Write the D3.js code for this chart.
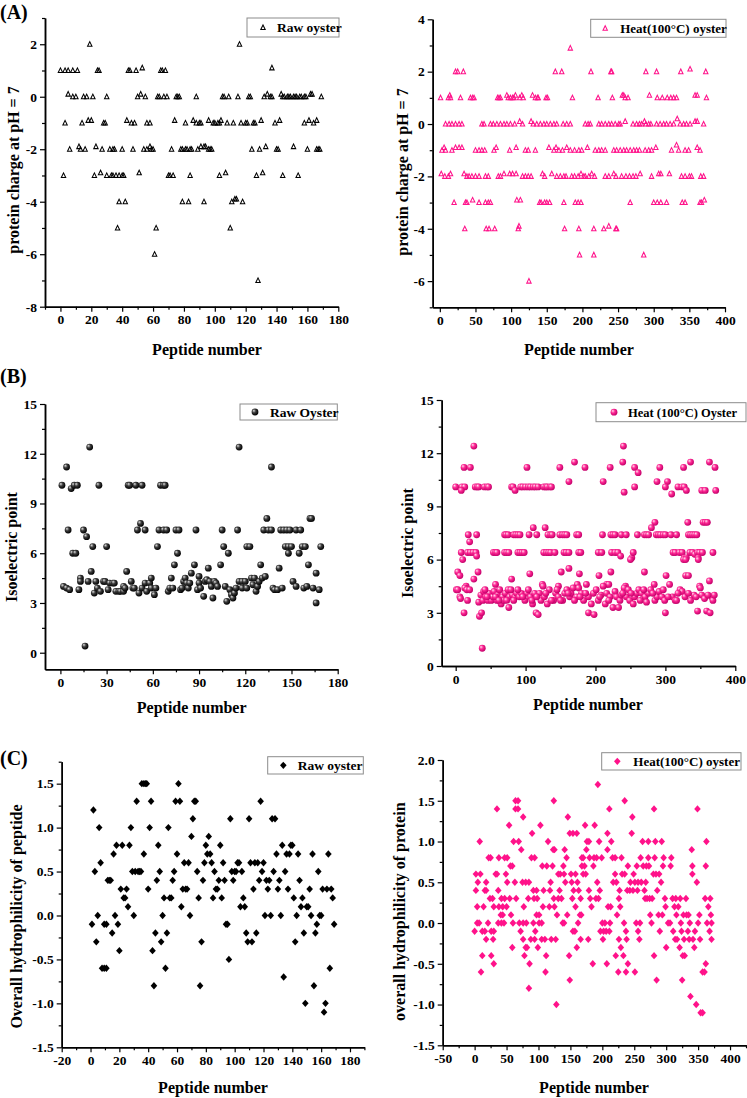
<!DOCTYPE html>
<html>
<head>
<meta charset="utf-8">
<script src="https://cdn.jsdelivr.net/npm/d3@7"></script>
<style>
  body { margin: 0; background: #fff; }
  svg text { font-family: "Liberation Serif", "Times New Roman", serif; font-weight: bold; fill: #000; }
</style>
</head>
<body>
<svg id="chart" width="747" height="1098"></svg>
<script>
// ---- data: [peptide number, value] ----
const rawCharge = [
  [19,2],[116,2],[53,1.1],[137,1.1],
  [0,1],[3,1],[5,1],[8,1],[11,1],[24,1],[25,1],[44,1],[45,1],[49,1],[65,1],[66,1],[68,1],
  [5,0.1],[8,0],[10,0],[15,0],[17,0],[21,0],[30,0],[50,0],[52,0.1],[55,0],[63,0],[64,0],[67,0],[69,0],
  [75,0],[76,0],[77,0],[88,0],[105,0],[106,0],[109,0],[115,0],[122,0],[123,0],[132,0],[134,0.1],[136,0],
  [137,0],[143,0.1],[144,0],[145,0],[147,0],[148,0],[149,0],[151,0],[152,0],[153,0],[155,0],[156,0],
  [158,0],[159,0],[162,0.1],[163,0.1],[169,0],
  [3,-1],[14,-1],[18,-0.9],[20,-0.9],[28,-1],[29,-1],[43,-0.9],[46,-1],[48,-1],[56,-1],[58,-1],[74,-0.9],
  [81,-1],[86,-0.9],[88,-1],[90,-1],[91,-1],[96,-0.9],[99,-1],[100,-1],[102,-1],[103,-1],[104,-0.9],
  [108,-1],[112,-1],[117,-1],[120,-1],[121,-1],[125,-1],[126,-1],[130,-0.9],[139,-1],[142,-0.9],
  [158,-1],[161,-0.9],[164,-1],[166,-0.9],
  [6,-2],[12,-1.9],[13,-2],[16,-2],[23,-1.9],[27,-2],[32,-2],[34,-2],[35,-2],[40,-2],[47,-2],[54,-2],
  [56,-2],[58,-1.9],[59,-2],[60,-2],[72,-2],[78,-2],[79,-2],[81,-2],[82,-2],[84,-2],[85,-2],[89,-2],
  [91,-1.9],[93,-1.9],[94,-1.9],[96,-2],[97,-2],[98,-2],[124,-2],[129,-2],[133,-1.9],[140,-2],[141,-2],
  [151,-1.9],[160,-2],[166,-2],[167,-2],[168,-2],
  [2,-3],[22,-3],[26,-2.9],[30,-3],[33,-3],[34,-3],[36,-3],[38,-3],[40,-3],[41,-3],[51,-2.9],[70,-3],
  [71,-3],[73,-3],[84,-3],[103,-3],[107,-2.9],[127,-3],[131,-2.9],[144,-3],[154,-3],
  [38,-4],[42,-4],[79,-4],[83,-4],[93,-4],[111,-4],[113,-3.9],[114,-3.9],[118,-4],
  [37,-5],[62,-5],[110,-5],[61,-6],[128,-7]
];

const heatCharge = [
  [183,2.9],
  [22,2],[25,2],[33,2],[162,2],[171,2],[212,2],[240,2],[241,2],[289,2],[304,2],[338,2],[351,2.1],[373,2],
  [1,1],[12,1],[14,1.1],[15,1],[29,1],[43,1],[46,1],[48,1],[81,1],[83,1],[85,1],[94,1.1],[96,1],[99,1],
  [102,1],[104,1],[106,1.1],[112,1],[115,1.1],[117,1],[130,1.1],[134,1],[137,1],[138,1],[149,1],[151,1],
  [186,1],[222,1],[242,1],[256,1.1],[258,1.1],[260,1],[264,1],[294,1.1],[305,1],[312,1],[319,1],[324,1],
  [328,1],[332,1],[358,1.1],[361,1.1],[374,1],
  [8,0],[13,0],[17,0],[22,0],[27,0],[31,0],[59,0],[62,0],[71,0],[75,0],[80,0],[85,0],[90,0],[94,0],[99,0],
  [105,0],[112,0.1],[116,0],[128,0.1],[131,0],[136,0],[141,0],[146,0],[150,0],[155,0],[160,0],[164,0],
  [173,0],[178,0],[183,0],[204,0],[208,0],[211,0],[223,0],[227,0],[232,0],[237,0],[241,0],[246,0],
  [251,0],[253,0],[260,0.1],[271,0],[276,0],[280,0],[283,0],[287,0.1],[289,0],[293,0],[296,0],[304,0],
  [309,0],[314,0],[318,0],[323,0],[328,0],[333,0.2],[337,0],[342,0],[346,0],[351,0],[358,0.1],[361,0.1],[370,0],
  [3,-1],[6,-0.9],[8,-1],[17,-1],[22,-0.9],[27,-0.9],[31,-0.9],[50,-1],[55,-1],[59,-1],[63,-1],[76,-1],
  [79,-0.9],[98,-1],[107,-0.9],[120,-1],[124,-1],[134,-1],[153,-0.9],[160,-1],[163,-0.9],[167,-1],
  [172,-1],[178,-0.9],[183,-1],[189,-1],[195,-1],[199,-1],[207,-0.9],[218,-1],[223,-1],[227,-1],[232,-1],
  [244,-1],[248,-1],[253,-1],[258,-1],[262,-1],[267,-1],[272,-1],[276,-1],[280,-1],[288,-1],[293,-1],
  [297,-1],[303,-0.9],[325,-1],[332,-0.8],[335,-1],[344,-1],[349,-1],[361,-0.9],[365,-1],
  [2,-1.9],[7,-2],[12,-2],[15,-1.9],[34,-1.9],[38,-2],[41,-2],[45,-2],[50,-2],[55,-2],[64,-2],[68,-2],
  [82,-2],[85,-2],[90,-1.9],[98,-1.9],[102,-1.9],[107,-1.9],[116,-2],[120,-2],[124,-2],[128,-2],
  [144,-1.9],[147,-2],[157,-1.9],[164,-2],[169,-2],[174,-2],[177,-2],[185,-2],[189,-2],[194,-2],
  [198,-1.9],[202,-2],[204,-2],[209,-2],[213,-1.9],[217,-2],[232,-2],[237,-2],[244,-1.9],[247,-2],
  [255,-2],[261,-2],[266,-2],[271,-2],[275,-2],[281,-1.9],[297,-2],[307,-1.9],[310,-1.9],[322,-1.9],
  [339,-2],[344,-2],[350,-2],[353,-2],[366,-2],[370,-2],
  [20,-3],[36,-3],[38,-3],[46,-2.9],[55,-3],[64,-3],[68,-3],[71,-3],[108,-2.9],[113,-2.9],[140,-3],
  [142,-3],[147,-3],[150,-3],[154,-3],[174,-3],[190,-3],[194,-3],[198,-3],[267,-3],[300,-3],[305,-3],
  [310,-3],[318,-3],[340,-3],[344,-3],[365,-3],[367,-3],[371,-2.9],
  [35,-4],[65,-4],[69,-4],[77,-4],[110,-4],[111,-3.9],[175,-4],[195,-4],[216,-4],[230,-4],[237,-3.9],
  [247,-4],[248,-4],
  [196,-5],[216,-5],[286,-5],[125,-6]
];

const rawPI = [
  [1,10.1],[2,4.0],[4,3.9],[4,11.2],[5,7.4],[6,3.8],[7,9.9],[8,6.0],[9,10.1],[10,6.0],[11,10.1],[12,3.8],
  [13,4.5],[13,4.3],[15,7.4],[16,0.4],[17,7.0],[18,4.3],[19,12.4],[20,4.9],[21,6.4],[22,3.6],[23,4.3],
  [24,3.9],[25,10.1],[26,3.7],[28,4.3],[29,4.3],[30,6.4],[31,3.8],[32,4.2],[34,4.2],[35,4.2],[36,3.7],
  [38,3.7],[39,3.7],[41,4.0],[41,3.7],[42,3.9],[43,4.9],[44,10.1],[45,10.1],[46,4.3],[47,3.9],[48,3.9],
  [49,10.1],[50,7.4],[51,3.6],[52,7.8],[53,10.1],[53,3.9],[55,7.4],[55,4.2],[56,3.7],[58,4.2],[59,4.5],
  [59,3.9],[61,3.5],[62,3.9],[63,6.4],[64,7.4],[65,10.1],[67,10.1],[68,10.1],[67,7.4],[69,7.4],[70,3.7],
  [71,3.9],[72,4.5],[73,3.9],[74,5.3],[75,7.4],[76,6.0],[77,7.4],[78,3.8],[79,3.9],[80,4.3],[81,4.5],
  [82,4.2],[83,3.9],[84,4.2],[85,4.8],[87,5.3],[88,7.4],[89,3.8],[90,4.6],[90,4.2],[91,3.9],[93,3.4],
  [94,4.3],[95,4.4],[96,5.1],[97,4.3],[98,4.0],[99,3.3],[100,4.3],[101,4.2],[102,4.0],[104,5.3],[105,7.4],
  [106,6.4],[107,4.0],[108,3.1],[109,6.0],[110,3.8],[111,3.5],[112,3.3],[113,3.6],[114,3.9],[115,7.4],
  [116,12.4],[116,4.3],[118,4.3],[118,3.9],[120,4.3],[121,3.9],[121,6.4],[123,6.4],[124,4.5],[125,4.1],
  [126,4.5],[127,3.7],[128,4.0],[129,4.3],[130,5.3],[131,4.5],[132,7.4],[133,4.6],[134,8.1],[135,7.4],
  [137,11.2],[137,7.4],[138,3.9],[139,3.8],[141,3.8],[142,5.1],[143,7.4],[144,3.9],[145,7.4],[146,6.4],
  [147,7.4],[148,6.4],[148,6.0],[149,7.4],[150,6.4],[151,4.3],[153,7.4],[153,4.0],[155,6.0],[156,7.4],
  [157,6.4],[158,3.9],[159,6.4],[160,4.0],[161,5.3],[162,8.1],[163,8.1],[164,3.9],[166,4.8],[166,3.0],
  [168,3.8],[169,6.4]
];

const heatPI = [
  [26,12.4],[240,12.4],[170,11.5],[239,11.5],[336,11.5],[363,11.5],
  [12,11.2],[21,11.2],[102,11.2],[149,11.2],[185,11.2],[221,11.2],[256,11.2],[292,11.2],[326,11.2],[371,11.2],
  [162,10.4],[211,10.4],[261,10.9],[288,10.4],[303,10.4],
  [0,10.1],[9,10.1],[13,10.1],[28,10.1],[31,10.1],[33,10.1],[41,10.1],[45,10.1],[47,10.1],[80,10.1],
  [82,10.1],[93,10.1],[96,10.1],[100,10.1],[104,10.1],[107,10.1],[111,10.1],[114,10.1],[118,10.1],
  [126,10.1],[129,10.1],[131,10.1],[135,10.1],[137,10.1],[256,10.1],[300,10.1],[318,10.1],[324,10.1],[327,10.1],
  [8,9.9],[85,9.9],[241,9.8],[309,9.7],[330,9.9],[352,9.9],[357,9.9],[372,9.9],
  [285,8.1],[332,8.1],[354,8.1],[357,8.1],[360,8.1],[111,7.8],[128,7.8],[280,7.8],[20,7.0],
  [18,7.4],[30,7.4],[70,7.4],[72,7.4],[75,7.4],[83,7.4],[86,7.4],[89,7.4],[92,7.4],[105,7.4],[116,7.4],
  [132,7.4],[136,7.4],[138,7.4],[149,7.4],[153,7.4],[156,7.4],[159,7.4],[173,7.4],[176,7.4],[210,7.4],
  [222,7.4],[225,7.4],[228,7.4],[237,7.4],[244,7.4],[260,7.4],[270,7.4],[273,7.4],[276,7.4],[287,7.4],
  [290,7.4],[293,7.4],[297,7.4],[300,7.4],[308,7.4],[316,7.4],[333,7.4],[336,7.4],[339,7.4],[342,7.4],[345,7.4],
  [8,6.4],[17,6.4],[21,6.4],[25,6.4],[29,6.4],[30,6.2],[54,6.4],[57,6.4],[59,6.4],[70,6.4],[73,6.4],
  [76,6.4],[89,6.4],[92,6.4],[95,6.4],[98,6.4],[126,6.4],[130,6.4],[133,6.4],[136,6.4],[142,6.4],
  [155,6.4],[158,6.4],[162,6.4],[176,6.4],[179,6.4],[204,6.4],[209,6.4],[223,6.4],[228,6.4],[232,6.4],
  [236,6.2],[252,6.1],[254,6.4],[311,6.4],[314,6.4],[320,6.4],[324,6.4],[327,6.1],[330,6.1],[335,6.4],
  [339,6.4],[342,6.3],[346,6.4],[349,6.4],[353,6.4],[347,6.1],[368,6.4],
  [10,6.0],[250,6.0],[326,6.0],[329,6.0],[347,6.0],[162,5.5],
  [3,5.3],[32,5.3],[151,5.3],[222,5.3],[270,5.3],[106,5.2],[177,5.2],
  [6,5.1],[205,5.1],[301,5.1],[329,5.1],[333,5.1],[26,4.9],[80,4.9],[363,4.8],
  [15,4.5],[57,4.6],[124,4.6],[147,4.5],[174,4.6],[187,4.6],[216,4.6],[219,4.6],[243,4.5],[284,4.6],
  [306,4.6],[349,4.5],
  [1,4.3],[3,4.3],[6,3.9],[7,3.8],[12,3.0],[13,4.4],[16,4.3],[17,3.7],[20,4.3],[33,3.6],[34,2.8],[37,3.0],
  [38,1.0],[36,4.0],[39,3.7],[40,4.2],[43,3.9],[46,3.7],[48,4.1],[51,3.7],[53,3.9],[55,4.2],[59,3.7],
  [60,4.0],[63,4.3],[65,3.5],[67,3.9],[68,3.7],[71,4.1],[75,4.3],[76,3.3],[77,3.9],[81,4.0],[85,3.9],
  [87,4.1],[91,3.9],[94,4.1],[99,3.7],[102,4.1],[107,3.9],[110,3.5],[113,4.1],[115,3.0],[118,2.9],
  [120,4.1],[122,3.7],[125,4.5],[127,3.9],[131,3.5],[134,4.3],[140,3.7],[143,4.1],[147,3.9],[153,3.7],
  [156,4.1],[159,4.3],[163,3.9],[165,4.1],[168,4.4],[173,3.9],[176,4.4],[180,4.1],[183,3.7],[190,3.0],
  [190,3.9],[194,3.5],[197,4.1],[198,2.9],[201,4.3],[204,3.7],[208,4.0],[211,4.5],[214,3.5],[216,4.1],
  [221,3.9],[225,3.3],[228,4.2],[230,3.9],[233,3.3],[235,3.7],[237,4.0],[241,4.4],[244,3.9],[247,4.3],
  [249,3.7],[254,3.5],[256,3.9],[259,4.1],[262,4.3],[266,4.1],[271,3.9],[273,3.6],[276,4.1],[279,4.3],
  [285,3.7],[288,3.9],[291,4.2],[295,3.9],[299,3.7],[300,3.0],[310,3.9],[314,3.7],[316,3.7],[321,4.3],
  [324,4.2],[336,3.7],[341,4.0],[346,3.1],[350,4.4],[352,4.0],[359,3.1],[364,3.0],[366,3.9],[368,3.7],[370,4.0],
  [42,4.3],[45,3.9],[57,3.9],[62,3.7],[73,3.7],[79,4.3],[83,3.7],[89,4.3],[96,3.9],[104,4.3],[109,3.7],
  [116,3.9],[129,4.1],[137,3.7],[145,4.3],[150,3.7],[161,4.1],[170,3.7],[178,3.9],[186,4.1],[206,3.9],
  [219,3.7],[239,4.1],[251,4.1],[264,3.7],[269,4.3],[282,4.1],[297,4.3],[304,3.9],[318,4.1],[328,3.9],
  [333,4.1],[344,3.9],[356,3.8],[361,4.0]
];

const rawHydro = [
  [1,-0.1],[2,1.2],[3,0.5],[4,-0.3],[5,0.0],[6,1.0],[7,0.6],[8,-0.6],[9.5,-0.6],[9.5,-0.1],[11,-0.1],
  [11,-0.6],[12,0.4],[13,0.4],[14,0.4],[15,-0.2],[16,0.7],[17,0.0],[18,0.8],[19,-0.1],[20,-0.4],[21,0.3],
  [22,0.8],[23,0.2],[24,0.2],[25,0.3],[26,0.1],[27,0.8],[28,1.0],[29,0.5],[30,0.0],[31,0.5],[32,1.3],
  [33,0.5],[34,0.5],[35,0.5],[35.6,1.5],[37,0.7],[37,1.5],[38,1.5],[39,1.5],[40,0.3],[41,1.0],[42,1.3],
  [43,-0.4],[44,-0.8],[45,-0.2],[46,0.4],[47,0.8],[48,0.5],[49,-0.3],[50,0.0],[51,0.2],[52,-0.6],
  [53,-0.2],[54,1.0],[55,0.2],[56,0.2],[57,0.4],[58,0.5],[59,1.3],[60,0.7],[61,1.5],[62,1.3],[63,0.1],
  [64,0.3],[65,0.6],[66,0.3],[67,0.3],[68,0.6],[69,0.0],[70,0.9],[71,1.1],[72,1.3],[73,1.3],[74,0.5],
  [75,0.2],[76,-0.8],[77,-0.3],[78,0.4],[79,0.6],[80,0.8],[81,0.7],[82,0.9],[83,0.7],[84,0.6],[85,0.2],
  [86,0.5],[87,0.3],[88,0.3],[89,0.4],[90,0.8],[91,0.2],[92,0.6],[93,0.4],[94,-0.1],[95,-0.1],[96,-0.5],
  [97,1.1],[98,0.5],[99,0.4],[100,0.5],[101,0.5],[102,0.6],[103,0.6],[104,0.1],[105,0.5],[106,0.2],
  [107,0.1],[108,-0.2],[109,-0.3],[110,1.1],[111,0.6],[112,-0.3],[113,0.3],[114,0.6],[115,-0.2],[116,0.6],
  [117,0.4],[118,1.3],[119,0.5],[120,0.6],[121,0.0],[122,0.4],[123,0.3],[124,0.4],[125,0.0],[126,1.1],
  [127,0.5],[128,1.1],[129,0.7],[130,0.3],[131,0.4],[132,0.0],[133,0.8],[134,-0.7],[135,0.5],[136,0.7],
  [137,0.3],[138,0.7],[139,0.8],[140,0.8],[141,0.2],[142,-0.3],[143,0.0],[144,0.7],[145,0.4],[146,0.1],
  [147,0.2],[148,-0.2],[149,-1.0],[150,0.1],[151,0.1],[152,0.3],[153,0.0],[154,0.7],[155,-0.8],[156,-0.2],
  [157,-0.1],[158,0.5],[159,0.0],[160,0.0],[161,0.3],[162,-1.1],[163,-1.0],[164,0.3],[165,0.7],[166,-0.6],
  [167,0.3],[168,0.2],[169,-0.1]
];

const heatHydro = [
  [0,-0.1],[2,0.6],[2,0.4],[5,0.5],[4,0.2],[4,0.0],[7,0.0],[8,1.0],[9,0.6],[10,-0.6],[12,-0.1],[16,-0.1],
  [12,-0.4],[14,0.2],[16,0.4],[18,0.4],[18,0.5],[18,-0.2],[21,0.0],[22,0.8],[25,0.8],[24,0.3],[28,0.3],
  [26,-0.4],[26,-0.1],[30,-0.1],[29,-0.2],[30,-0.5],[30,0.2],[33,0.6],[35,0.6],[35,1.4],[37,0.4],[37,0.0],
  [38,0.8],[38,0.2],[41,0.1],[44,0.1],[42,0.3],[42,0.0],[46,0.0],[44,0.2],[47,0.8],[51,0.8],[47,0.3],
  [49,0.6],[50,0.2],[51,0.5],[54,1.2],[56,0.7],[59,0.7],[55,0.3],[57,0.1],[59,-0.3],[60,0.0],[61,1.0],
  [63,0.5],[64,1.5],[68,1.5],[64,1.4],[68,1.4],[65,0.3],[69,1.0],[70,0.0],[72,-0.1],[73,0.9],[75,0.5],
  [80,0.5],[76,1.3],[76,0.0],[77,0.2],[76,-0.2],[78,-0.4],[80,-0.3],[82,-0.3],[81,0.0],[84,0.3],[85,0.5],
  [85,-0.8],[86,-0.5],[88,-0.2],[89,0.8],[94,0.8],[90,1.1],[92,0.4],[92,0.0],[93,0.3],[98,0.3],[94,-0.2],
  [95,-0.1],[97,0.1],[101,0.1],[97,0.4],[99,-0.3],[101,0.0],[105,0.0],[103,1.2],[105,-0.2],[106,0.7],
  [107,0.2],[108,0.4],[110,-0.2],[111,-0.6],[112,-0.4],[113,0.7],[115,1.0],[117,0.2],[118,0.4],[119,0.5],
  [120,-0.2],[122,0.7],[123,0.9],[125,0.9],[124,1.5],[124,0.3],[125,0.2],[127,-0.2],[128,-1.0],[129,0.1],
  [131,0.3],[131,0.6],[134,0.6],[133,0.4],[136,0.3],[138,0.0],[140,0.0],[139,0.7],[140,0.6],[141,0.9],
  [142,0.5],[144,0.8],[145,0.1],[146,1.3],[148,-0.4],[149,1.1],[149,-0.7],[151,0.6],[152,0.5],[153,0.3],
  [154,-0.1],[157,-0.1],[154,1.1],[160,1.1],[155,0.4],[158,0.6],[158,0.2],[160,-0.3],[161,0.5],[162,0.0],
  [163,0.4],[165,0.1],[167,0.1],[166,0.3],[166,-0.2],[168,0.8],[170,0.8],[168,0.7],[170,0.6],[172,0.7],
  [173,1.2],[174,0.6],[175,0.9],[176,1.0],[179,1.0],[178,-0.2],[179,0.4],[180,0.8],[181,0.3],[183,0.2],
  [185,-0.5],[186,0.7],[187,0.8],[188,1.2],[190,0.3],[191,0.8],[192,0.5],[193,1.7],[194,0.3],[195,1.0],
  [196,0.4],[197,-0.1],[199,0.8],[200,0.0],[201,-0.2],[202,-0.1],[204,0.0],[206,-0.1],[207,-0.5],
  [208,0.9],[208,1.1],[209,0.2],[213,0.2],[211,1.4],[211,-0.1],[212,0.0],[214,1.0],[216,0.8],[220,0.8],
  [217,0.5],[222,0.5],[220,0.6],[221,-0.4],[223,0.1],[225,-0.6],[226,-0.2],[226,0.3],[227,0.4],[228,0.2],
  [229,-0.3],[230,0.8],[231,0.6],[233,-0.4],[234,0.0],[235,0.6],[235,1.5],[237,-0.1],[237,-0.6],
  [238,-0.2],[239,0.4],[243,0.4],[240,0.7],[240,-0.5],[244,0.5],[246,1.1],[247,1.3],[248,0.4],[249,0.6],
  [251,-0.6],[251,0.5],[253,0.0],[254,0.7],[255,0.4],[256,-0.1],[256,0.5],[258,-0.2],[259,0.0],[260,0.8],
  [261,0.5],[263,1.0],[264,0.7],[266,0.4],[267,0.3],[268,0.5],[269,0.7],[270,0.3],[272,0.8],[272,1.0],
  [273,0.7],[274,0.3],[275,0.1],[277,0.0],[278,0.3],[280,0.6],[281,-0.4],[281,1.4],[282,0.8],[283,1.0],
  [284,0.6],[285,-0.7],[286,0.4],[288,0.1],[289,0.6],[290,-0.1],[292,0.5],[293,1.0],[294,0.1],[295,0.7],
  [296,0.8],[298,0.3],[299,0.2],[300,-0.3],[303,0.0],[306,0.0],[307,0.7],[308,0.8],[310,0.3],[311,-0.1],
  [313,0.2],[314,-0.2],[315,0.3],[316,0.1],[317,-0.2],[319,0.2],[321,-0.3],[322,0.3],[323,0.0],[324,-0.1],
  [325,-0.7],[326,-0.4],[327,0.1],[328,-0.2],[329,-0.4],[331,0.3],[332,0.1],[334,-0.1],[335,0.1],
  [336,-0.2],[337,0.0],[338,-0.9],[340,0.9],[341,0.6],[341,0.7],[342,-0.2],[344,-0.3],[345,-0.1],
  [347,-1.0],[348,0.5],[349,1.4],[350,0.0],[352,0.1],[353,-0.2],[354,-1.1],[357,-1.1],[357,-0.6],
  [360,-0.6],[361,0.3],[362,0.7],[362,-0.5],[363,1.0],[364,0.0],[366,0.2],[368,-0.1],[369,0.3],[370,0.1],
  [371,0.0],[371,-0.2]
];

// ---- tick labels ----
const chargeTicksRaw = [-8, -6, -4, -2, 0, 2];
const chargeTicksHeat = [-6, -4, -2, 0, 2, 4];
const piTicks = [0, 3, 6, 9, 12, 15];
const hydroTicksRaw = [-1.5, -1.0, -0.5, 0.0, 0.5, 1.0, 1.5];
const hydroTicksHeat = [-1.5, -1.0, -0.5, 0.0, 0.5, 1.0, 1.5, 2.0];
const peptideTicks180 = [0, 20, 40, 60, 80, 100, 120, 140, 160, 180];
const peptideTicks400 = [0, 50, 100, 150, 200, 250, 300, 350, 400];
const peptideTicksB180 = [0, 30, 60, 90, 120, 150, 180];
const peptideTicksB400 = [0, 100, 200, 300, 400];
const peptideTicksC180 = [-20, 0, 20, 40, 60, 80, 100, 120, 140, 160, 180];
const peptideTicksC400 = [-50, 0, 50, 100, 150, 200, 250, 300, 350, 400];

const PINK = "#ff128a";
const svg = d3.select("#chart");
const defs = svg.append("defs");

function ballGradient(id, light, mid, dark) {
  const grad = defs.append("radialGradient").attr("id", id)
    .attr("cx", "40%").attr("cy", "40%").attr("r", "60%").attr("fx", "32%").attr("fy", "30%");
  grad.append("stop").attr("offset", "0%").attr("stop-color", light);
  grad.append("stop").attr("offset", "45%").attr("stop-color", mid);
  grad.append("stop").attr("offset", "100%").attr("stop-color", dark);
}
ballGradient("ballBlack", "#e0e0e0", "#3c3c3c", "#000");
ballGradient("ballPink", "#ffe0f0", "#ff2a95", "#c4006a");

function addMarker(g, kind, color, cx, cy) {
  if (kind === "triangle") {
    g.append("path")
      .attr("d", `M${cx},${cy - 2.6}L${cx + 2.2},${cy + 2}L${cx - 2.2},${cy + 2}Z`)
      .attr("fill", "none").attr("stroke", color).attr("stroke-width", 1.05);
  } else if (kind === "ball") {
    g.append("circle").attr("cx", cx).attr("cy", cy).attr("r", 3.4)
      .attr("fill", color === PINK ? "url(#ballPink)" : "url(#ballBlack)");
  } else {
    g.append("path")
      .attr("d", `M${cx},${cy - 3.7}L${cx + 3.3},${cy}L${cx},${cy + 3.7}L${cx - 3.3},${cy}Z`)
      .attr("fill", color);
  }
}

function minorTicks(domain, step, majors) {
  return d3.range(Math.ceil(domain[0] / step) * step, domain[1] + 1e-9, step)
    .filter((v) => !majors.some((m) => Math.abs(m - v) < 1e-9));
}

function styleAxis(axisG) {
  axisG.attr("font-size", 13.5).attr("font-family", null);
  axisG.select(".domain").attr("stroke-width", 1.5);
  axisG.selectAll(".tick line").attr("stroke-width", 1.2);
}

function drawPanel(p) {
  const x = d3.scaleLinear().domain(p.xDomain).range([p.left, p.right]);
  const y = d3.scaleLinear().domain(p.yDomain).range([p.bottom, p.top]);
  const g = svg.append("g");
  const yFmt = p.yDigits ? (d) => d.toFixed(p.yDigits) : (d) => `${d}`;

  // minor ticks
  g.append("g").attr("transform", `translate(0,${p.bottom})`)
    .call(d3.axisBottom(x).tickValues(minorTicks(p.xDomain, p.xMinor, p.xTicks)).tickSize(3).tickSizeOuter(0).tickFormat(""))
    .call(styleAxis);
  g.append("g").attr("transform", `translate(${p.left},0)`)
    .call(d3.axisLeft(y).tickValues(minorTicks(p.yDomain, p.yMinor, p.yTicks)).tickSize(3).tickSizeOuter(0).tickFormat(""))
    .call(styleAxis);

  // major ticks
  g.append("g").attr("transform", `translate(0,${p.bottom})`)
    .call(d3.axisBottom(x).tickValues(p.xTicks).tickSize(5).tickPadding(3).tickSizeOuter(0).tickFormat((d) => `${d}`))
    .call(styleAxis);
  g.append("g").attr("transform", `translate(${p.left},0)`)
    .call(d3.axisLeft(y).tickValues(p.yTicks).tickSize(5).tickPadding(3).tickSizeOuter(0).tickFormat(yFmt))
    .call(styleAxis);

  // points
  const marks = g.append("g");
  p.data.forEach(([px, py]) => addMarker(marks, p.marker, p.color, x(px), y(py)));

  // titles
  g.append("text").attr("x", p.xTitle[0]).attr("y", p.xTitle[1])
    .attr("text-anchor", "middle").attr("font-size", 16).text("Peptide number");
  g.append("text")
    .attr("transform", `translate(${p.yTitle[0]},${p.yTitle[1]}) rotate(-90)`)
    .attr("text-anchor", "middle").attr("dominant-baseline", "central")
    .attr("font-size", 16).text(p.yLabel);

  // legend
  const [lx, ly, lw, lh] = p.legend;
  g.append("rect").attr("x", lx).attr("y", ly).attr("width", lw).attr("height", lh)
    .attr("fill", "#fff").attr("stroke", "#8c8c8c").attr("stroke-width", 1);
  addMarker(g, p.marker, p.color, lx + p.legendSym, ly + lh / 2);
  g.append("text").attr("x", lx + p.legendText).attr("y", ly + lh / 2 + 4.6)
    .attr("font-size", p.legendFont || 13.5).text(p.name);

  if (p.tag) {
    g.append("text").attr("x", 0).attr("y", p.tag[1]).attr("font-size", 20).text(p.tag[0]);
  }
}

drawPanel({
  data: rawCharge, marker: "triangle", color: "#000", name: "Raw oyster",
  xDomain: [-10, 180], yDomain: [-8, 3], left: 45, right: 338.3, top: 18, bottom: 306.7,
  xTicks: peptideTicks180, xMinor: 10, yTicks: chargeTicksRaw, yMinor: 1,
  xTitle: [207, 355], yTitle: [13, 170], yLabel: "protein charge at pH = 7",
  legend: [247, 18, 92, 19], legendSym: 16, legendText: 30, tag: ["(A)", 19]
});
drawPanel({
  data: heatCharge, marker: "triangle", color: PINK, name: "Heat(100°C) oyster",
  xDomain: [-10, 400], yDomain: [-7, 4], left: 432.7, right: 725, top: 19.3, bottom: 307.3,
  xTicks: peptideTicks400, xMinor: 25, yTicks: chargeTicksHeat, yMinor: 1,
  xTitle: [579, 355], yTitle: [402.5, 172], yLabel: "protein charge at pH = 7",
  legend: [590.7, 19.3, 135.3, 18], legendSym: 14.5, legendText: 29.5, legendFont: 13
});
drawPanel({
  data: rawPI, marker: "ball", color: "#000", name: "Raw Oyster",
  xDomain: [-10, 180], yDomain: [-1, 15], left: 45, right: 337.7, top: 404, bottom: 669.3,
  xTicks: peptideTicksB180, xMinor: 15, yTicks: piTicks, yMinor: 1.5,
  xTitle: [191.7, 713], yTitle: [11.5, 547], yLabel: "Isoelectric point",
  legend: [240, 404, 97.3, 16], legendSym: 15, legendText: 30, tag: ["(B)", 383]
});
drawPanel({
  data: heatPI, marker: "ball", color: PINK, name: "Heat (100°C) Oyster",
  xDomain: [-20, 400], yDomain: [0, 15], left: 441.7, right: 735.3, top: 400, bottom: 666,
  xTicks: peptideTicksB400, xMinor: 50, yTicks: piTicks, yMinor: 1.5,
  xTitle: [588, 710], yTitle: [407, 543], yLabel: "Isoelectric point",
  legend: [596, 402.7, 150, 19], legendSym: 18, legendText: 32, legendFont: 12.5
});
drawPanel({
  data: rawHydro, marker: "diamond", color: "#000", name: "Raw oyster",
  xDomain: [-20, 190], yDomain: [-1.5, 1.75], left: 61.7, right: 364.4, top: 761.7, bottom: 1047.3,
  xTicks: peptideTicksC180, xMinor: 10, yTicks: hydroTicksRaw, yMinor: 0.25, yDigits: 1,
  xTitle: [213, 1093], yTitle: [16.7, 916.5], yLabel: "Overall hydrophilicity of  peptide",
  legend: [267.7, 756.7, 95.6, 17.3], legendSym: 15.6, legendText: 30, tag: ["(C)", 765]
});
drawPanel({
  data: heatHydro, marker: "diamond", color: PINK, name: "Heat(100°C) oyster",
  xDomain: [-50, 425], yDomain: [-1.5, 2.0], left: 442.7, right: 746, top: 760, bottom: 1045.3,
  xTicks: peptideTicksC400, xMinor: 25, yTicks: hydroTicksHeat, yMinor: 0.25, yDigits: 1,
  xTitle: [594, 1093], yTitle: [399.3, 911.7], yLabel: "overall hydrophilicity of protein",
  legend: [601.7, 752.7, 139.3, 17.3], legendSym: 15.6, legendText: 31.6, legendFont: 13
});
</script>
</body>
</html>
